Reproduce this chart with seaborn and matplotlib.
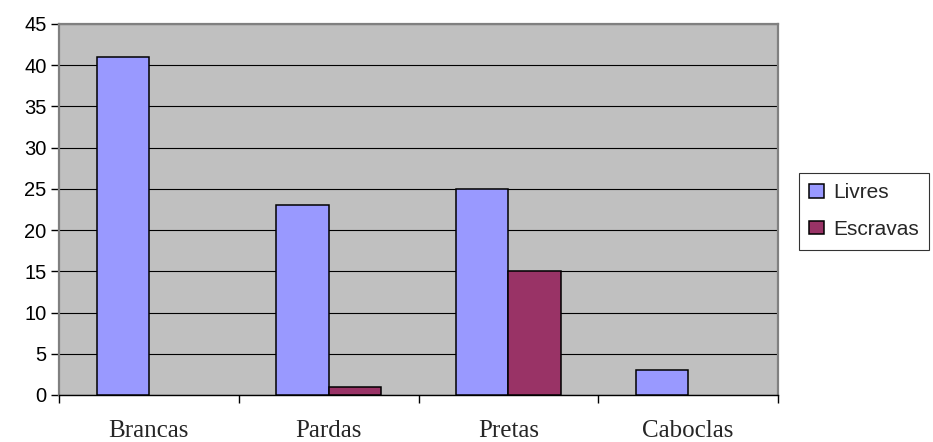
import matplotlib
matplotlib.use("Agg")
import matplotlib.pyplot as plt
import seaborn as sns
import pandas as pd

# Counts by colour category, free vs. enslaved
categories = ["Brancas", "Pardas", "Pretas", "Caboclas"]
livres = [41, 23, 25, 3]
escravas = [0, 1, 15, 0]
series_names = ["Livres", "Escravas"]
y_ticks = [0, 5, 10, 15, 20, 25, 30, 35, 40, 45]

df = pd.DataFrame({
    "categoria": categories * 2,
    "valor": livres + escravas,
    "condicao": [series_names[0]] * len(categories) + [series_names[1]] * len(categories),
})

sns.set_theme(style="white")
plt.rcParams["font.family"] = ["Liberation Sans", "DejaVu Sans"]

fig = plt.figure(figsize=(9.33, 4.42), dpi=100)
ax = fig.add_axes([59 / 933, 1 - 395 / 442, (778 - 59) / 933, (395 - 24) / 442])
ax.set_facecolor("#C0C0C0")

palette = {"Livres": "#9999FF", "Escravas": "#993366"}
sns.barplot(data=df, x="categoria", y="valor", hue="condicao", order=categories,
            hue_order=series_names, palette=palette, width=0.58, saturation=1,
            edgecolor="black", linewidth=1.1, ax=ax, zorder=3, errorbar=None)

# Empty bars leave no trace on the baseline
for patch in ax.patches:
    if patch.get_height() == 0:
        patch.set_visible(False)

ax.set_xlim(-0.5, len(categories) - 0.5)
ax.set_ylim(0, 45)
ax.set_yticks(y_ticks)
ax.yaxis.grid(True, color="black", linewidth=0.8, zorder=1)
ax.set_axisbelow(True)
ax.set_xlabel("")
ax.set_ylabel("")

# Category labels at centres, tick marks at category boundaries
ax.set_xticks(range(len(categories)))
ax.set_xticklabels(categories, fontfamily=["Liberation Serif", "DejaVu Serif"], fontsize=18)
ax.set_xticks([i - 0.5 for i in range(len(categories) + 1)], minor=True)
ax.tick_params(axis="x", which="major", length=0, pad=18)
ax.tick_params(axis="x", which="minor", length=6, width=1, color="black", direction="out", bottom=True)
ax.tick_params(axis="y", length=6, width=1, color="black", direction="out", left=True,
               labelsize=14.5, pad=3)
for lbl in ax.get_yticklabels():
    lbl.set_color("black")

for side in ["top", "right", "left"]:
    ax.spines[side].set_visible(True)
    ax.spines[side].set_color("#808080")
    ax.spines[side].set_linewidth(1.6)
ax.spines["bottom"].set_color("black")
ax.spines["bottom"].set_linewidth(1.0)

ax.get_legend().remove()
handles = [plt.Rectangle((0, 0), 1, 1, facecolor=palette[n], edgecolor="black", linewidth=1.1)
           for n in series_names]
leg = fig.legend(handles, series_names, loc="upper left",
                 bbox_to_anchor=(799 / 933, 1 - 173 / 442), frameon=True, fancybox=False,
                 fontsize=15, handlelength=0.68, handleheight=0.6, handletextpad=0.45,
                 borderpad=0.5, labelspacing=0.85, borderaxespad=0)
leg.get_frame().set_edgecolor("black")
leg.get_frame().set_linewidth(0.8)

fig.savefig("out.png", dpi=100, facecolor="white")
